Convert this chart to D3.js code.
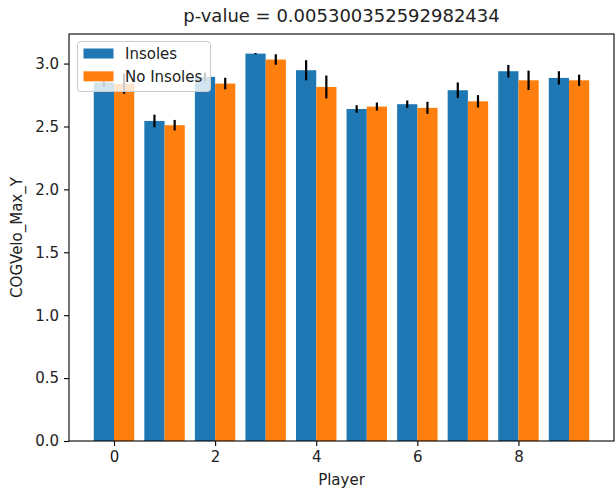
<!DOCTYPE html>
<html>
<head>
<meta charset="utf-8">
<script src="https://cdn.jsdelivr.net/npm/d3@7"></script>
<style>
  html, body { margin: 0; padding: 0; background: #fff; }
  svg { display: block; font-family: "DejaVu Sans", sans-serif; }
</style>
</head>
<body>
<svg id="chart" width="616" height="491"></svg>
<script>
const players = [0, 1, 2, 3, 4, 5, 6, 7, 8, 9];
const insoles = [2.85, 2.544, 2.894, 3.079, 2.947, 2.639, 2.677, 2.788, 2.939, 2.886];
const insolesErr = [0.035, 0.05, 0.035, 0.005, 0.08, 0.03, 0.03, 0.062, 0.05, 0.053];
const noInsoles = [2.84, 2.51, 2.841, 3.032, 2.814, 2.658, 2.648, 2.70, 2.867, 2.867];
const noInsolesErr = [0.08, 0.042, 0.046, 0.042, 0.091, 0.032, 0.048, 0.049, 0.077, 0.045];
const xTicks = [0, 2, 4, 6, 8];
const yTicks = [0, 0.5, 1.0, 1.5, 2.0, 2.5, 3.0];
const seriesNames = ["Insoles", "No Insoles"];
const title = "p-value = 0.005300352592982434";

const colors = ["#1f77b4", "#ff7f0e"];
const barW = 0.4;
const L = 69, R = 614, T = 34, B = 441;
const fs = "15px";

const svg = d3.select("#chart");
const x = d3.scaleLinear().domain([-0.89, 9.89]).range([L, R]);
const y = d3.scaleLinear().domain([0, 3.235]).range([B, T]);

const series = [
  { name: seriesNames[0], vals: insoles, errs: insolesErr, off: -barW, color: colors[0] },
  { name: seriesNames[1], vals: noInsoles, errs: noInsolesErr, off: 0, color: colors[1] }
];

series.forEach(s => {
  svg.append("g").selectAll("rect").data(players).join("rect")
    .attr("x", (p) => x(p + s.off))
    .attr("width", x(barW) - x(0))
    .attr("y", (p, i) => y(s.vals[i]))
    .attr("height", (p, i) => y(0) - y(s.vals[i]))
    .attr("fill", s.color);
});
series.forEach(s => {
  svg.append("g").selectAll("line").data(players).join("line")
    .attr("x1", (p) => x(p + s.off + barW / 2))
    .attr("x2", (p) => x(p + s.off + barW / 2))
    .attr("y1", (p, i) => y(s.vals[i] - s.errs[i]))
    .attr("y2", (p, i) => y(s.vals[i] + s.errs[i]))
    .attr("stroke", "#000")
    .attr("stroke-width", 2.2);
});

// axes
const xAxis = d3.axisBottom(x).tickValues(xTicks).tickFormat(d3.format("d")).tickSize(5).tickPadding(5);
const gx = svg.append("g").attr("transform", `translate(0,${B})`).call(xAxis);
const yAxis = d3.axisLeft(y).tickValues(yTicks).tickFormat(d3.format(".1f")).tickSize(5).tickPadding(5);
const gy = svg.append("g").attr("transform", `translate(${L},0)`).call(yAxis);
[gx, gy].forEach(g => {
  g.select(".domain").remove();
  g.selectAll(".tick line").attr("stroke", "#000").attr("stroke-width", 1.1);
  g.selectAll(".tick text").attr("fill", "#222").style("font-size", fs).style("font-family", "DejaVu Sans");
});

// frame
svg.append("rect").attr("x", L).attr("y", T).attr("width", R - L).attr("height", B - T)
  .attr("fill", "none").attr("stroke", "#000").attr("stroke-width", 1.1);

// title and labels
svg.append("text").attr("x", (L + R) / 2).attr("y", 22).attr("text-anchor", "middle")
  .style("font-size", "18px").attr("fill", "#222").text(title);
svg.append("text").attr("x", (L + R) / 2).attr("y", 485).attr("text-anchor", "middle")
  .style("font-size", fs).attr("fill", "#222").text("Player");
svg.append("text").attr("transform", `translate(22,${(T + B) / 2}) rotate(-90)`).attr("text-anchor", "middle")
  .style("font-size", fs).attr("fill", "#222").text("COGVelo_Max_Y");

// legend
const lg = svg.append("g");
lg.append("rect").attr("x", 77.5).attr("y", 41.5).attr("width", 133).attr("height", 50).attr("rx", 3)
  .attr("fill", "#fff").attr("fill-opacity", 0.8).attr("stroke", "#ccc").attr("stroke-width", 1);
series.forEach((s, i) => {
  const cy = 53.5 + i * 22.8;
  lg.append("rect").attr("x", 83.5).attr("y", cy - 5).attr("width", 30).attr("height", 10).attr("fill", s.color);
  lg.append("text").attr("x", 125).attr("y", cy + 5.5).style("font-size", fs).attr("fill", "#222").text(s.name);
});
</script>
</body>
</html>
